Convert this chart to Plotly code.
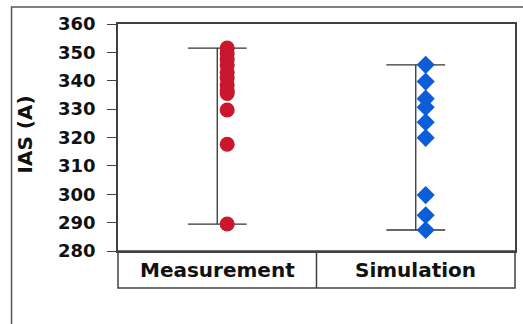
import plotly.graph_objects as go

categories = ["Measurement", "Simulation"]
measurement = [351.5, 349.5, 347.5, 345.5, 343.0, 341.0, 338.5, 336.5, 335.5, 329.7, 317.6, 289.5]
simulation = [345.6, 339.7, 333.7, 330.7, 325.4, 319.9, 299.7, 292.6, 287.4]
y_ticks = [280, 290, 300, 310, 320, 330, 340, 350, 360]

W, H = 523, 324
L, R, T, B = 118, 6, 24, 73
pw, ph = W - L - R, H - T - B

FONT = "DejaVu Sans"
RED = "#C8172F"
BLUE = "#0B5ED7"
LINE = "#333333"

fig = go.Figure()

series = [measurement, simulation]
styles = [dict(symbol="circle", size=15, color=RED), dict(symbol="diamond", size=14, color=BLUE)]
cap = 0.148
off = 0.05
for i, vals in enumerate(series):
    lo, hi = min(vals), max(vals)
    fig.add_trace(go.Scatter(
        x=[i - cap, i + cap, None, i, i, None, i - cap, i + cap],
        y=[hi, hi, None, hi, lo, None, lo, lo],
        mode="lines", line=dict(color=LINE, width=1.3), hoverinfo="skip", showlegend=False))
    fig.add_trace(go.Scatter(
        x=[i + off] * len(vals), y=vals, mode="markers",
        marker=dict(symbol=styles[i]["symbol"], size=styles[i]["size"], color=styles[i]["color"], line=dict(width=0)),
        name=categories[i], showlegend=False))

shapes = []
# outer border
shapes.append(dict(type="rect", xref="paper", yref="paper",
                   x0=(11 - L) / pw, x1=(W + 20 - L) / pw,
                   y0=(H - B - (H + 20)) / ph, y1=(H - B - 7) / ph,
                   line=dict(color="#555555", width=1.5), fillcolor="rgba(0,0,0,0)", layer="below"))
# category box
box_bottom = -(288 - (H - B)) / ph
shapes.append(dict(type="rect", xref="paper", yref="paper", x0=0, x1=1, y0=box_bottom, y1=0,
                   line=dict(color="#404040", width=1.5)))
shapes.append(dict(type="line", xref="paper", yref="paper", x0=0.5, x1=0.5, y0=box_bottom, y1=0,
                   line=dict(color="#404040", width=1.5)))

annotations = []
for i, c in enumerate(categories):
    annotations.append(dict(text=c, x=i, xref="x", y=box_bottom / 2, yref="paper",
                            showarrow=False, xanchor="center", yanchor="middle",
                            font=dict(family=FONT, size=20, color="#111111", weight="bold")))
annotations.append(dict(text="IAS (A)", x=(25 - L) / pw, xref="paper", y=(H - B - 134) / ph, yref="paper",
                        showarrow=False, textangle=-90, xanchor="center", yanchor="middle",
                        font=dict(family=FONT, size=20, color="#111111", weight="bold")))

fig.update_layout(
    width=W, height=H,
    margin=dict(l=L, r=R, t=T, b=B),
    paper_bgcolor="white", plot_bgcolor="white",
    shapes=shapes, annotations=annotations,
    xaxis=dict(range=[-0.5, 1.5], showgrid=False, zeroline=False, showticklabels=False, ticks="",
               showline=True, mirror=True, linecolor="#404040", linewidth=1.5),
    yaxis=dict(range=[280, 360], tickvals=y_ticks, ticktext=[str(v) for v in y_ticks],
               showgrid=False, zeroline=False, ticks="outside", ticklen=9, tickcolor="#404040", tickwidth=1.3,
               showline=True, mirror=True, linecolor="#404040", linewidth=1.5,
               ticklabelstandoff=8,
               tickfont=dict(family=FONT, size=18, color="#111111", weight="bold")),
)

fig.write_html("out.html", config={"displayModeBar": False},
               post_script="document.body.style.margin='0';document.body.style.overflow='hidden';")
